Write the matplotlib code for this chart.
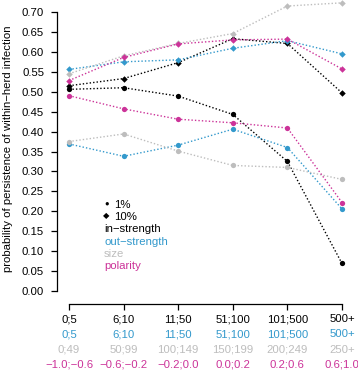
import numpy as np
import matplotlib
matplotlib.use("Agg")
import matplotlib.pyplot as plt
from matplotlib.transforms import blended_transform_factory

plt.rcParams['font.family'] = ['Liberation Sans', 'DejaVu Sans']
FS = 8.2
plt.rcParams['font.size'] = FS

# class labels for each metric (one row per metric under the x axis)
labels_in = ["0;5", "6;10", "11;50", "51;100", "101;500", "500+"]
labels_out = ["0;5", "6;10", "11;50", "51;100", "101;500", "500+"]
labels_size = ["0;49", "50;99", "100;149", "150;199", "200;249", "250+"]
labels_pol = ["\u22121.0;\u22120.6", "\u22120.6;\u22120.2", "\u22120.2;0.0", "0.0;0.2", "0.2;0.6", "0.6;1.0"]

# persistence probability, 1% (circles) and 10% (diamonds)
in_1 = [0.506, 0.510, 0.489, 0.443, 0.325, 0.069]
in_10 = [0.515, 0.533, 0.573, 0.633, 0.621, 0.497]
out_1 = [0.369, 0.338, 0.366, 0.406, 0.360, 0.206]
out_10 = [0.556, 0.575, 0.580, 0.609, 0.628, 0.595]
size_1 = [0.375, 0.394, 0.351, 0.315, 0.310, 0.280]
size_10 = [0.545, 0.590, 0.621, 0.646, 0.715, 0.723]
pol_1 = [0.490, 0.457, 0.431, 0.422, 0.409, 0.222]
pol_10 = [0.528, 0.586, 0.620, 0.630, 0.632, 0.557]

C_IN = "#000000"
C_OUT = "#3399CC"
C_SIZE = "#BDBDBD"
C_POL = "#CC3399"

W, H = 358, 371
fig = plt.figure(figsize=(W / 100, H / 100), dpi=100)
ax = fig.add_axes([57 / W, 1 - 304 / H, (350 - 57) / W, (304 - 8) / H])

x = np.arange(len(labels_in))
series = [
    (in_1, in_10, C_IN),
    (out_1, out_10, C_OUT),
    (size_1, size_10, C_SIZE),
    (pol_1, pol_10, C_POL),
]
for s1, s10, col in series:
    ax.plot(x, s1, linestyle=(0, (1, 1.5)), color=col, linewidth=1.0,
            marker="o", markersize=3.8, markeredgewidth=0, clip_on=False)
    ax.plot(x, s10, linestyle=(0, (1, 1.5)), color=col, linewidth=1.0,
            marker="D", markersize=3.3, markeredgewidth=0, clip_on=False)

# axis limits so that 0 -> px 69, 5 -> px 342 ; 0.0 -> py 291, 0.7 -> py 12
ppx = (342 - 69) / 5
ax.set_xlim(-(69 - 57) / ppx, 5 + (350 - 342) / ppx)
ppy = (291 - 12) / 0.7
ax.set_ylim(-(304 - 291) / ppy, 0.7 + (12 - 8) / ppy)

for sp in ["top", "right"]:
    ax.spines[sp].set_visible(False)
ax.spines["left"].set_bounds(0, 0.7)
ax.spines["bottom"].set_bounds(0, 5)
ax.spines["left"].set_linewidth(0.9)
ax.spines["bottom"].set_linewidth(0.9)

yt = np.arange(0, 0.701, 0.05)
ax.set_yticks(yt)
ax.set_yticklabels([f"{v:.2f}" for v in yt])
ax.tick_params(axis="y", length=4.3, width=0.9, pad=5, labelsize=FS)
ax.set_xticks(x)
ax.set_xticklabels([])
ax.tick_params(axis="x", length=4.3, width=0.9)

trans = blended_transform_factory(ax.transData, ax.transAxes)
rows = [(labels_in, C_IN), (labels_out, C_OUT), (labels_size, C_SIZE), (labels_pol, C_POL)]
for r, (labs, col) in enumerate(rows):
    for i, lab in enumerate(labs):
        ax.annotate(lab, xy=(i, 0), xycoords=trans, xytext=(0, -10.8 - 11.0 * r),
                    textcoords="offset points", ha="center", va="center",
                    color=col, fontsize=FS, annotation_clip=False)

fig.text(8 / W, 1 - 148.5 / H, "probability of persistence of within\u2212herd infection",
         rotation=90, ha="center", va="center", fontsize=FS)

# legend drawn as text
lx_m, lx_t = 106.5 / W, 114 / W
fig.text(lx_m, 1 - 204.5 / H, "\u25CF", ha="center", va="center", fontsize=5.5)
fig.text(lx_t, 1 - 204.5 / H, "1%", ha="left", va="center", fontsize=FS)
fig.text(lx_m, 1 - 217 / H, "\u25C6", ha="center", va="center", fontsize=6)
fig.text(lx_t, 1 - 217 / H, "10%", ha="left", va="center", fontsize=FS)
leg = [("in\u2212strength", C_IN), ("out\u2212strength", C_OUT), ("size", C_SIZE), ("polarity", C_POL)]
for k, (t, col) in enumerate(leg):
    fig.text(104 / W, 1 - (229.5 + 12.3 * k) / H, t, ha="left", va="center",
             color=col, fontsize=FS)

fig.savefig("out.png", dpi=100)
